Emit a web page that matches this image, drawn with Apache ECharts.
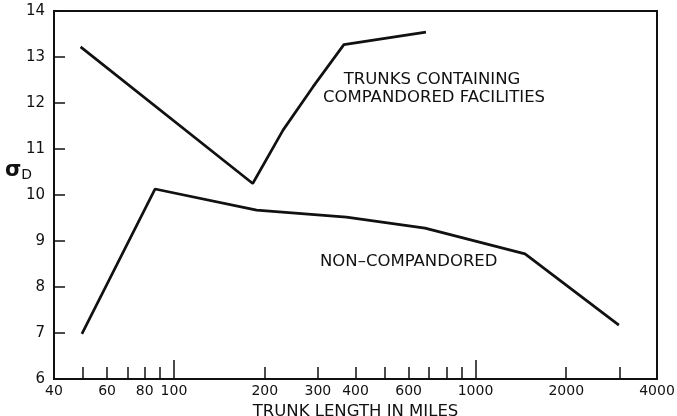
<!DOCTYPE html>
<html>
<head>
<meta charset="utf-8">
<script src="https://cdn.jsdelivr.net/npm/echarts@6/dist/echarts.min.js"></script>
<style>html,body{margin:0;padding:0;background:#fff}#c{width:677px;height:416px}</style>
</head>
<body>
<div id="c"></div>
<script>
// Data
const compX = [49, 182.5, 230, 289, 366, 685];
const compY = [13.22, 10.25, 11.41, 12.35, 13.27, 13.54];
const nonX = [49.5, 86.5, 188, 373, 680, 1460, 2990];
const nonY = [6.98, 10.13, 9.67, 9.52, 9.28, 8.72, 7.17];
const xLabelValues = [40, 60, 80, 100, 200, 300, 400, 600, 1000, 2000, 4000];
const xMinorTicks = [50, 60, 70, 80, 90, 200, 300, 400, 500, 600, 700, 800, 900, 2000, 3000];
const xMajorTicks = [100, 1000];
const yTicks = [6, 7, 8, 9, 10, 11, 12, 13, 14];

const ink = '#111';
const font = 'DejaVu Sans';
const chart = echarts.init(document.getElementById('c'), null, {renderer: 'canvas'});
chart.setOption({
  backgroundColor: '#fff',
  animation: false,
  grid: {left: 54, right: 20, top: 11, bottom: 37, outerBoundsMode: 'none', containLabel: false,
    show: true, borderColor: ink, borderWidth: 2, backgroundColor: 'transparent'},
  xAxis: [{
    type: 'log', logBase: 10, min: 40, max: 4000,
    name: 'TRUNK LENGTH IN MILES', nameLocation: 'middle', nameGap: 18,
    nameTextStyle: {fontFamily: font, fontSize: 16.5, color: ink},
    axisLine: {lineStyle: {color: ink, width: 2}},
    axisTick: {inside: true, length: 12, lineStyle: {color: ink, width: 1.5}, customValues: xMinorTicks},
    axisLabel: {fontFamily: font, fontSize: 14, color: ink, margin: 5, customValues: xLabelValues,
      formatter: v => String(Math.round(v))},
    splitLine: {show: false}, minorTick: {show: false}
  }, {
    type: 'log', logBase: 10, min: 40, max: 4000, position: 'bottom',
    axisLine: {show: false},
    axisTick: {inside: true, length: 19, lineStyle: {color: ink, width: 1.5}, customValues: xMajorTicks},
    axisLabel: {show: false}, splitLine: {show: false}
  }],
  yAxis: {
    type: 'value', min: 6, max: 14, interval: 1,
    axisLine: {show: true, lineStyle: {color: ink, width: 2}},
    axisTick: {show: true, inside: true, length: 11, lineStyle: {color: ink, width: 1.5}},
    axisLabel: {fontFamily: font, fontSize: 15, color: ink, margin: 9, customValues: yTicks},
    splitLine: {show: false}
  },
  series: [{
    type: 'line', xAxisIndex: 0, showSymbol: false, symbol: 'none',
    data: compX.map((x, i) => [x, compY[i]]),
    lineStyle: {color: ink, width: 2.7}
  }, {
    type: 'line', xAxisIndex: 0, showSymbol: false, symbol: 'none',
    data: nonX.map((x, i) => [x, nonY[i]]),
    lineStyle: {color: ink, width: 2.7}
  }],
  graphic: [
    {type: 'text', left: 5, top: 160, style: {
      text: '{s|σ}{d|D}', rich: {
        s: {fontFamily: font, fontSize: 21, fontWeight: 'bold', fill: ink},
        d: {fontFamily: font, fontSize: 14, fill: ink, padding: [10, 0, 0, 0]}
      }}},
    {type: 'text', x: 432, y: 80, style: {text: 'TRUNKS CONTAINING', fontFamily: font, fontSize: 16.5, fill: ink, align: 'center', verticalAlign: 'middle'}},
    {type: 'text', x: 434, y: 98, style: {text: 'COMPANDORED FACILITIES', fontFamily: font, fontSize: 16.5, fill: ink, align: 'center', verticalAlign: 'middle'}},
    {type: 'text', x: 320, y: 262, style: {text: 'NON–COMPANDORED', fontFamily: font, fontSize: 16.5, fill: ink, align: 'left', verticalAlign: 'middle'}}
  ]
});
</script>
</body>
</html>
